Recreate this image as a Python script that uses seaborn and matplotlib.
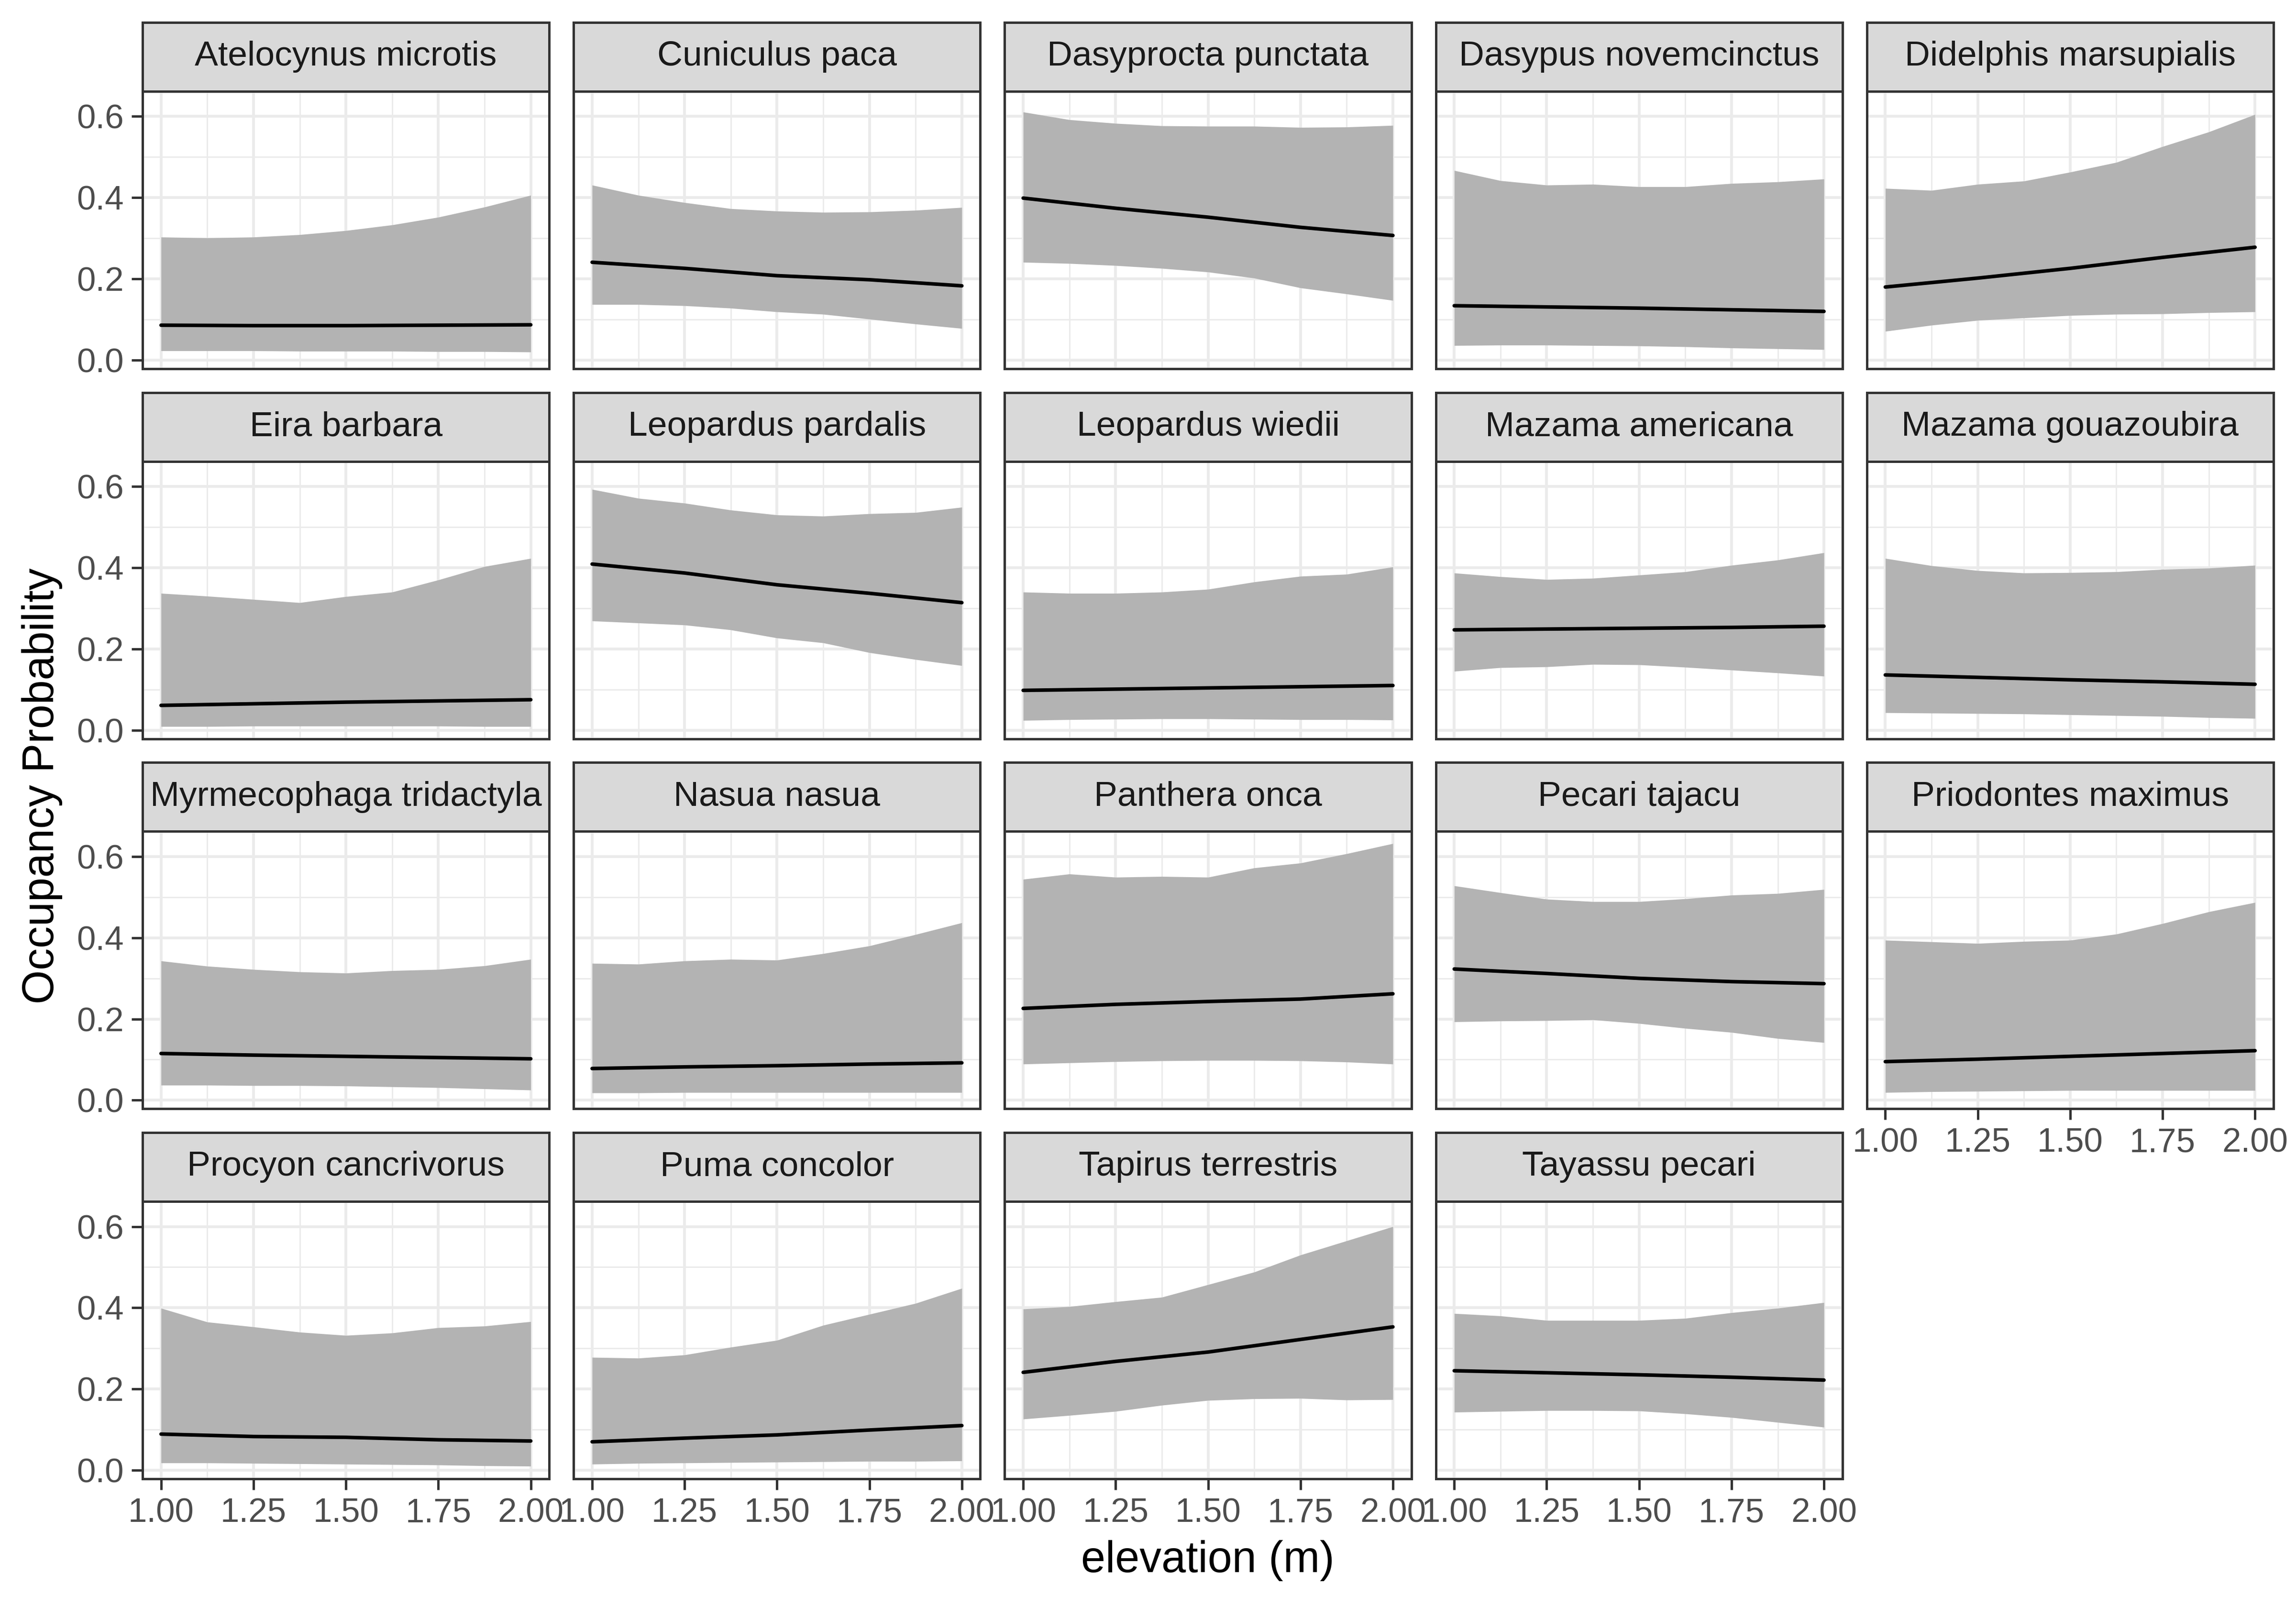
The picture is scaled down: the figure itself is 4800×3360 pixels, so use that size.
import numpy as np
import pandas as pd
import matplotlib
matplotlib.use("Agg")
import matplotlib.pyplot as plt
from matplotlib.patches import Rectangle
from matplotlib.ticker import FormatStrFormatter
import seaborn as sns

# Data
species = [
    "Atelocynus microtis", "Cuniculus paca", "Dasyprocta punctata",
    "Dasypus novemcinctus", "Didelphis marsupialis", "Eira barbara",
    "Leopardus pardalis", "Leopardus wiedii", "Mazama americana",
    "Mazama gouazoubira", "Myrmecophaga tridactyla", "Nasua nasua",
    "Panthera onca", "Pecari tajacu", "Priodontes maximus",
    "Procyon cancrivorus", "Puma concolor", "Tapirus terrestris",
    "Tayassu pecari",
]

elev_band = [1.0, 1.125, 1.25, 1.375, 1.5, 1.625, 1.75, 1.875, 2.0]
elev_line = [1.0, 1.25, 1.5, 1.75, 2.0]

upper_vals = [
    [0.303, 0.301, 0.303, 0.309, 0.319, 0.333, 0.352, 0.377, 0.406],
    [0.431, 0.406, 0.388, 0.373, 0.367, 0.364, 0.365, 0.369, 0.376],
    [0.611, 0.592, 0.583, 0.577, 0.576, 0.576, 0.573, 0.574, 0.578],
    [0.467, 0.442, 0.431, 0.433, 0.427, 0.427, 0.435, 0.439, 0.446],
    [0.423, 0.418, 0.433, 0.441, 0.463, 0.487, 0.526, 0.562, 0.605],
    [0.337, 0.330, 0.322, 0.314, 0.329, 0.340, 0.370, 0.403, 0.423],
    [0.593, 0.571, 0.559, 0.542, 0.530, 0.527, 0.533, 0.536, 0.549],
    [0.340, 0.337, 0.337, 0.340, 0.347, 0.365, 0.379, 0.384, 0.402],
    [0.387, 0.378, 0.371, 0.374, 0.382, 0.390, 0.406, 0.419, 0.437],
    [0.423, 0.405, 0.393, 0.387, 0.388, 0.390, 0.396, 0.399, 0.406],
    [0.343, 0.330, 0.322, 0.316, 0.313, 0.319, 0.322, 0.331, 0.347],
    [0.337, 0.335, 0.343, 0.347, 0.345, 0.361, 0.380, 0.408, 0.437],
    [0.544, 0.557, 0.549, 0.551, 0.549, 0.572, 0.584, 0.607, 0.632],
    [0.528, 0.511, 0.495, 0.489, 0.489, 0.496, 0.505, 0.509, 0.519],
    [0.394, 0.390, 0.386, 0.391, 0.394, 0.409, 0.435, 0.464, 0.487],
    [0.399, 0.365, 0.353, 0.340, 0.332, 0.338, 0.351, 0.355, 0.366],
    [0.278, 0.276, 0.284, 0.303, 0.320, 0.357, 0.384, 0.411, 0.448],
    [0.397, 0.403, 0.415, 0.426, 0.457, 0.488, 0.530, 0.565, 0.600],
    [0.386, 0.380, 0.369, 0.369, 0.369, 0.374, 0.388, 0.399, 0.413],
]

lower_vals = [
    [0.023, 0.023, 0.023, 0.022, 0.022, 0.022, 0.021, 0.021, 0.020],
    [0.137, 0.137, 0.134, 0.128, 0.119, 0.113, 0.101, 0.089, 0.078],
    [0.241, 0.238, 0.233, 0.226, 0.217, 0.202, 0.178, 0.163, 0.147],
    [0.036, 0.037, 0.037, 0.036, 0.035, 0.033, 0.030, 0.028, 0.026],
    [0.071, 0.086, 0.098, 0.104, 0.110, 0.113, 0.114, 0.117, 0.119],
    [0.009, 0.009, 0.010, 0.010, 0.010, 0.010, 0.010, 0.009, 0.009],
    [0.269, 0.264, 0.259, 0.247, 0.227, 0.215, 0.191, 0.174, 0.159],
    [0.024, 0.026, 0.027, 0.028, 0.028, 0.027, 0.026, 0.026, 0.025],
    [0.145, 0.154, 0.156, 0.162, 0.161, 0.155, 0.148, 0.141, 0.133],
    [0.043, 0.042, 0.041, 0.040, 0.038, 0.036, 0.034, 0.031, 0.029],
    [0.037, 0.037, 0.036, 0.036, 0.035, 0.033, 0.031, 0.028, 0.025],
    [0.018, 0.018, 0.019, 0.019, 0.019, 0.019, 0.019, 0.019, 0.019],
    [0.089, 0.092, 0.095, 0.097, 0.098, 0.098, 0.097, 0.094, 0.089],
    [0.193, 0.195, 0.196, 0.198, 0.189, 0.177, 0.167, 0.152, 0.142],
    [0.019, 0.021, 0.022, 0.023, 0.024, 0.024, 0.024, 0.024, 0.024],
    [0.018, 0.018, 0.017, 0.016, 0.015, 0.014, 0.013, 0.011, 0.010],
    [0.015, 0.017, 0.018, 0.019, 0.020, 0.021, 0.022, 0.022, 0.023],
    [0.126, 0.135, 0.145, 0.160, 0.172, 0.176, 0.177, 0.173, 0.174],
    [0.143, 0.145, 0.147, 0.147, 0.146, 0.139, 0.130, 0.118, 0.106],
]

line_vals = [
    [0.086, 0.085, 0.085, 0.086, 0.087],
    [0.241, 0.226, 0.208, 0.198, 0.183],
    [0.399, 0.374, 0.352, 0.327, 0.307],
    [0.134, 0.131, 0.128, 0.124, 0.120],
    [0.180, 0.202, 0.226, 0.253, 0.278],
    [0.061, 0.065, 0.069, 0.072, 0.075],
    [0.409, 0.387, 0.358, 0.337, 0.314],
    [0.098, 0.101, 0.104, 0.107, 0.110],
    [0.247, 0.249, 0.251, 0.253, 0.256],
    [0.136, 0.130, 0.124, 0.119, 0.113],
    [0.115, 0.111, 0.108, 0.105, 0.102],
    [0.078, 0.082, 0.085, 0.089, 0.092],
    [0.226, 0.236, 0.243, 0.249, 0.262],
    [0.323, 0.312, 0.300, 0.292, 0.287],
    [0.095, 0.101, 0.108, 0.115, 0.122],
    [0.089, 0.083, 0.081, 0.075, 0.072],
    [0.070, 0.079, 0.087, 0.099, 0.110],
    [0.241, 0.268, 0.291, 0.322, 0.353],
    [0.245, 0.240, 0.235, 0.229, 0.222],
]

# long-format tables
band_rows = []
line_rows = []
for i, sp in enumerate(species):
    for x, lo, hi in zip(elev_band, lower_vals[i], upper_vals[i]):
        band_rows.append({"species": sp, "elev": x, "lower": lo, "upper": hi})
    for x, y in zip(elev_line, line_vals[i]):
        line_rows.append({"species": sp, "elev": x, "occ": y})
band_df = pd.DataFrame(band_rows)
line_df = pd.DataFrame(line_rows)

sns.set_theme(style="white")
plt.rcParams["font.family"] = ["Liberation Sans", "DejaVu Sans"]

BORDER = "#333333"
GRID = "#EBEBEB"
NCOL = 5


def draw_band(data, **kws):
    ax = plt.gca()
    ax.fill_between(data["elev"], data["lower"], data["upper"],
                    color="#B3B3B3", linewidth=0, zorder=2)


g = sns.FacetGrid(band_df, col="species", col_wrap=NCOL, col_order=species,
                  sharex=True, sharey=True, height=2.5, aspect=1.4,
                  despine=False)
g.map_dataframe(draw_band)

n = len(species)
for i, sp in enumerate(species):
    ax = g.axes_dict[sp]
    sns.lineplot(data=line_df[line_df["species"] == sp], x="elev", y="occ",
                 color="black", linewidth=1.8, ax=ax, zorder=3)
    ax.set_title("")
    ax.set_xlabel("")
    ax.set_ylabel("")

    ax.set_xlim(0.95, 2.05)
    ax.set_ylim(-0.021, 0.662)
    ax.set_xticks([1.0, 1.25, 1.5, 1.75, 2.0])
    ax.set_xticks([1.125, 1.375, 1.625, 1.875], minor=True)
    ax.set_yticks([0.0, 0.2, 0.4, 0.6])
    ax.set_yticks([0.1, 0.3, 0.5], minor=True)
    ax.xaxis.set_major_formatter(FormatStrFormatter("%.2f"))
    ax.yaxis.set_major_formatter(FormatStrFormatter("%.1f"))

    ax.set_axisbelow(True)
    ax.grid(which="major", color=GRID, linewidth=1.4)
    ax.grid(which="minor", color=GRID, linewidth=0.7)

    for s in ax.spines.values():
        s.set_visible(True)
        s.set_color(BORDER)
        s.set_linewidth(1.2)
        s.set_zorder(5)

    is_bottom = i + NCOL >= n
    is_left = i % NCOL == 0
    ax.tick_params(which="major", direction="out", length=5.5, width=1.2,
                   color=BORDER, labelcolor="#4D4D4D", labelsize=17, pad=4,
                   bottom=is_bottom, labelbottom=is_bottom,
                   left=is_left, labelleft=is_left)
    ax.tick_params(which="minor", length=0)

    # ggplot-style strip on top of each panel
    ax.add_patch(Rectangle((0, 1), 1, 0.248, transform=ax.transAxes,
                           facecolor="#D9D9D9", edgecolor=BORDER,
                           linewidth=1.2, clip_on=False, zorder=6))
    ax.text(0.5, 1.124, sp, transform=ax.transAxes, ha="center", va="center",
            fontsize=17.6, color="#1A1A1A", zorder=7)

fig = g.figure
fig.set_size_inches(16, 11.2)
fig.subplots_adjust(left=0.0621, right=0.9902, bottom=0.0798, top=0.9432,
                    wspace=0.06, hspace=0.334)

fig.text(0.526, 0.029, "elevation (m)", ha="center", va="center",
         fontsize=22, color="black")
fig.text(0.0183, 0.511, "Occupancy Probability", ha="center", va="center",
         rotation=90, fontsize=22, color="black")

fig.savefig("out.png", dpi=300, facecolor="white")
